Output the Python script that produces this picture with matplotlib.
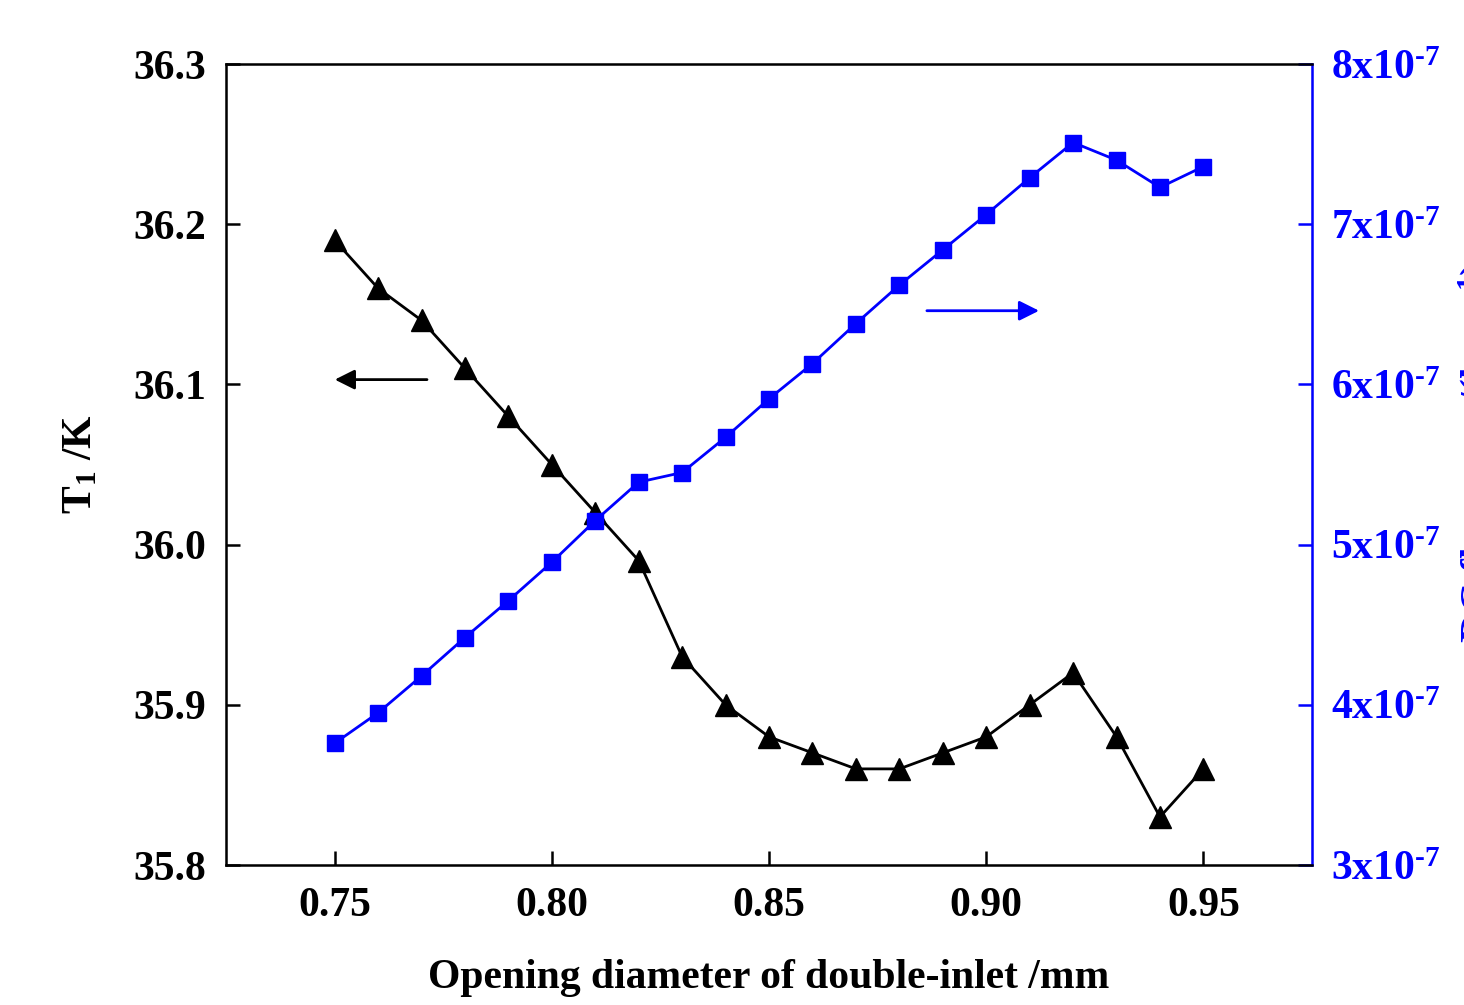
import numpy as np
import matplotlib
matplotlib.use('agg')
import matplotlib.pyplot as plt
from matplotlib.ticker import FuncFormatter

plt.rcParams['font.family'] = ['Liberation Serif', 'DejaVu Serif']
plt.rcParams['font.weight'] = 'bold'
plt.rcParams['axes.labelweight'] = 'bold'
plt.rcParams['mathtext.fontset'] = 'custom'
plt.rcParams['mathtext.rm'] = 'Liberation Serif:bold'
plt.rcParams['mathtext.it'] = 'Liberation Serif:bold'
plt.rcParams['mathtext.bf'] = 'Liberation Serif:bold'

# opening diameter of double-inlet (mm)
diameter = [0.75, 0.76, 0.77, 0.78, 0.79, 0.80, 0.81, 0.82, 0.83, 0.84, 0.85,
            0.86, 0.87, 0.88, 0.89, 0.90, 0.91, 0.92, 0.93, 0.94, 0.95]
# first stage temperature (K)
t1 = [36.19, 36.16, 36.14, 36.11, 36.08, 36.05, 36.02, 35.99, 35.93, 35.90, 35.88,
      35.87, 35.86, 35.86, 35.87, 35.88, 35.90, 35.92, 35.88, 35.83, 35.86]
# right axis series (x1e-7)
right_vals = [3.76, 3.95, 4.18, 4.42, 4.65, 4.89, 5.15, 5.39, 5.45, 5.67, 5.91,
              6.13, 6.38, 6.62, 6.84, 7.06, 7.29, 7.51, 7.40, 7.23, 7.36]
right_vals = [v * 1e-7 for v in right_vals]

x_ticks = [0.75, 0.80, 0.85, 0.90, 0.95]
left_ticks = [35.8, 35.9, 36.0, 36.1, 36.2, 36.3]
right_ticks = [3e-7, 4e-7, 5e-7, 6e-7, 7e-7, 8e-7]

blue = '#0000FF'
fs = 30

fig = plt.figure(figsize=(14.64, 10.05), dpi=100)
ax = fig.add_axes([0.1544, 0.1393, 0.7418, 0.797])
ax2 = ax.twinx()

ax.plot(diameter, t1, color='black', lw=2.0, marker='^', ms=16, mec='black', mfc='black')
ax2.plot(diameter, right_vals, color=blue, lw=2.0, marker='s', ms=12, mec=blue, mfc=blue)

ax.set_xlim(0.725, 0.975)
ax.set_ylim(35.8, 36.3)
ax2.set_ylim(3e-7, 8e-7)
ax.set_xticks(x_ticks)
ax.set_xticklabels(['%.2f' % v for v in x_ticks])
ax.set_yticks(left_ticks)
ax.set_yticklabels(['%.1f' % v for v in left_ticks])
ax2.set_yticks(right_ticks)
ax2.yaxis.set_major_formatter(
    FuncFormatter(lambda v, p: r'$%d\mathrm{x}10^{\text{-}7}$' % round(v * 1e7)))

ax.tick_params(direction='in', length=10, width=1.8, labelsize=fs, pad=14)
ax.tick_params(axis='x', pad=16)
ax2.tick_params(direction='in', length=10, width=1.8, labelsize=fs, colors=blue, pad=14)

for s in ['left', 'top', 'bottom']:
    ax2.spines[s].set_linewidth(1.8)
ax2.spines['right'].set_color(blue)
ax2.spines['right'].set_linewidth(1.8)

ax.set_xlabel('Opening diameter of double-inlet /mm', fontsize=fs, labelpad=24)
ax.set_ylabel(r'T$_1$ /K', fontsize=fs, labelpad=24)

# arrows pointing to each axis
ax.annotate('', xy=(0.7494, 36.103), xytext=(0.7719, 36.103),
            arrowprops=dict(arrowstyle='-|>', color='black', lw=2.0, mutation_scale=30))
ax.annotate('', xy=(0.9128, 36.146), xytext=(0.8857, 36.146),
            arrowprops=dict(arrowstyle='-|>', color=blue, lw=2.0, mutation_scale=30))

# right axis label, mostly cut by the figure edge as in the original
fig.text(0.9945, 0.36, r'DC flow rate /(kg s$^{-1}$)', rotation=90, fontsize=fs,
         color=blue, ha='left', va='bottom')

fig.savefig('out.png', dpi=100)
